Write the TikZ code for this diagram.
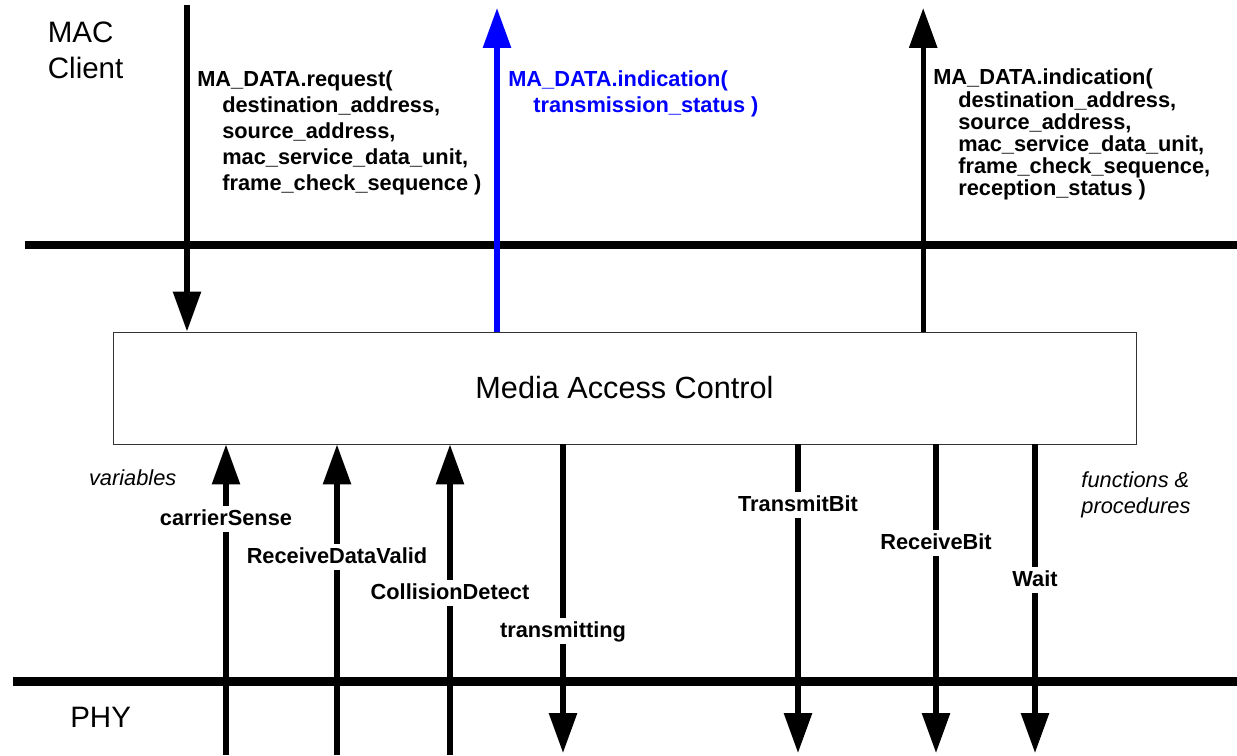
\documentclass[tikz,border=0pt]{standalone}
\usepackage{fontspec}
\setmainfont{Liberation Sans}
\usetikzlibrary{arrows.meta,positioning}
\definecolor{sigblue}{RGB}{0,0,255}
\definecolor{boxline}{HTML}{333333}
\newcommand\argind{\hspace*{0.625cm}}

\begin{document}
\begin{tikzpicture}[
    bus/.style={line width=6.2pt},
    sig/.style={line width=3.8pt, -{Triangle[length=1cm,width=0.68cm]}},
    lbl/.style={fill=white, inner xsep=1pt, inner ysep=2.5pt, text height=11pt, text depth=2pt,
      font=\fontsize{15.5}{18.6}\selectfont\bfseries},
    prim/.style={anchor=base west, align=left, inner sep=0pt, font=\fontsize{15.5}{18.6}\selectfont\bfseries},
    note/.style={anchor=base west, align=left, inner sep=0pt, font=\fontsize{15.5}{18.5}\selectfont\itshape},
    layername/.style={anchor=base west, align=left, inner sep=0pt, font=\fontsize{21}{25.3}\selectfont}]
  \useasboundingbox (0,0) rectangle (30.925,18.875);

  % layer names (base = last line)
  \node[layername] (client) at (1.19,16.92) {MAC\\Client};
  \node[layername] (phy) at (1.75,0.68) {PHY};

  % the MAC box
  \node[draw=boxline, line width=0.7pt, minimum width=25.575cm, minimum height=2.8cm,
    font=\fontsize{21.8}{26}\selectfont] (mac) at (15.6125,9.175) {Media Access Control};

  % service interface (top) and PHY interface (bottom)
  \coordinate (busL) at (0.625,12.75);
  \coordinate (busR) at (30.925,12.75);
  \coordinate (phyL) at (0.325,1.8325);
  \coordinate (phyR) at (30.925,1.8325);
  \draw[bus] (busL) -- (busR);
  \draw[bus] (phyL) -- (phyR);

  % primitives to and from the MAC client
  \coordinate (reqtop) at (4.675,18.75);
  \coordinate (cnftop) at (12.425,18.675);
  \coordinate (indtop) at (23.08,18.675);
  \draw[sig] (reqtop) -- (reqtop |- mac.north);
  \draw[sig, sigblue] (cnftop |- mac.north) -- (cnftop);
  \draw[sig] (indtop |- mac.north) -- (indtop);

  \node[prim] (req) at (4.925,14.11) {MA\_DATA.request(\\
    \argind destination\_address,\\
    \argind source\_address,\\
    \argind mac\_service\_data\_unit,\\
    \argind frame\_check\_sequence )};
  \node[prim, sigblue] (cnf) at (12.7,16.05) {MA\_DATA.indication(\\
    \argind transmission\_status )};
  \node[prim, font=\fontsize{15.5}{15.8}\selectfont\bfseries] (ind) at (23.325,13.975) {MA\_DATA.indication(\\
    \argind destination\_address,\\
    \argind source\_address,\\
    \argind mac\_service\_data\_unit,\\
    \argind frame\_check\_sequence,\\
    \argind reception\_status )};

  % variables from the PHY
  \coordinate (cs) at (5.65,0);
  \coordinate (rdv) at (8.425,0);
  \coordinate (cd) at (11.25,0);
  \draw[sig] (cs) -- (cs |- mac.south);
  \draw[sig] (rdv) -- (rdv |- mac.south);
  \draw[sig] (cd) -- (cd |- mac.south);

  % variable and procedures towards the PHY
  \coordinate (tr) at (14.075,0.05);
  \coordinate (tb) at (19.95,0.05);
  \coordinate (rb) at (23.4,0.05);
  \coordinate (wt) at (25.875,0.05);
  \draw[sig] (tr |- mac.south) -- (tr);
  \draw[sig] (tb |- mac.south) -- (tb);
  \draw[sig] (rb |- mac.south) -- (rb);
  \draw[sig] (wt |- mac.south) -- (wt);

  \node[lbl] (csl) at (5.65,5.9) {carrierSense};
  \node[lbl] (rdvl) at (8.425,4.95) {ReceiveDataValid};
  \node[lbl] (cdl) at (11.25,4.05) {CollisionDetect};
  \node[lbl] (trl) at (14.075,3.1) {transmitting};
  \node[lbl] (tbl) at (19.95,6.25) {TransmitBit};
  \node[lbl] (rbl) at (23.4,5.3) {ReceiveBit};
  \node[lbl] (wtl) at (25.875,4.375) {Wait};

  \node[note] (vars) at (2.22,6.73) {variables};
  \node[note] (funcs) at (27.03,6.04) {functions \&\\procedures};
\end{tikzpicture}
\end{document}
